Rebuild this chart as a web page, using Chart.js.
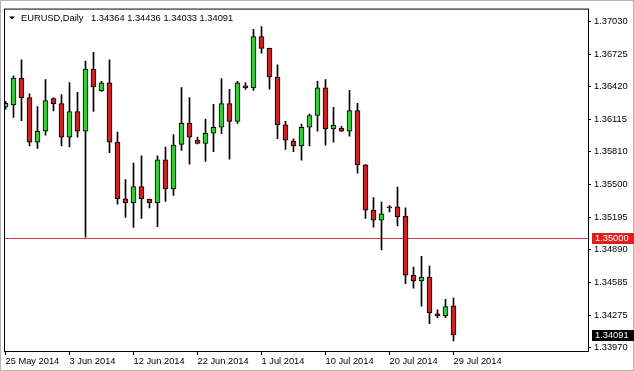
<!DOCTYPE html>
<html>
<head>
<meta charset="utf-8">
<title>EURUSD Daily</title>
<script src="https://cdn.jsdelivr.net/npm/chart.js@4.4.1/dist/chart.umd.min.js"></script>
<style>
  html, body { margin: 0; padding: 0; background: #fff; }
  canvas { display: block; }
</style>
</head>
<body>
<canvas id="chart" width="634" height="371"></canvas>
<script>
/* global Chart */

// Daily bars, Sunday bars included (broker feed)
const dates = [
  '25 May 2014', '26 May 2014', '27 May 2014', '28 May 2014', '29 May 2014', '30 May 2014',
  '1 Jun 2014', '2 Jun 2014', '3 Jun 2014', '4 Jun 2014', '5 Jun 2014', '6 Jun 2014',
  '8 Jun 2014', '9 Jun 2014', '10 Jun 2014', '11 Jun 2014', '12 Jun 2014', '13 Jun 2014',
  '15 Jun 2014', '16 Jun 2014', '17 Jun 2014', '18 Jun 2014', '19 Jun 2014', '20 Jun 2014',
  '22 Jun 2014', '23 Jun 2014', '24 Jun 2014', '25 Jun 2014', '26 Jun 2014', '27 Jun 2014',
  '29 Jun 2014', '30 Jun 2014', '1 Jul 2014', '2 Jul 2014', '3 Jul 2014', '4 Jul 2014',
  '6 Jul 2014', '7 Jul 2014', '8 Jul 2014', '9 Jul 2014', '10 Jul 2014', '11 Jul 2014',
  '13 Jul 2014', '14 Jul 2014', '15 Jul 2014', '16 Jul 2014', '17 Jul 2014', '18 Jul 2014',
  '20 Jul 2014', '21 Jul 2014', '22 Jul 2014', '23 Jul 2014', '24 Jul 2014', '25 Jul 2014',
  '27 Jul 2014', '28 Jul 2014', '29 Jul 2014'
];

const open = [
  1.36227, 1.36248, 1.36502, 1.36317, 1.35900, 1.36002, 1.36308, 1.36261, 1.35946, 1.36187,
  1.36002, 1.36585, 1.36382, 1.36456, 1.35900, 1.35368, 1.35331, 1.35483, 1.35363, 1.35331,
  1.35733, 1.35461, 1.35878, 1.36076, 1.35919, 1.35887, 1.35983, 1.36039, 1.36261, 1.36095,
  1.36428, 1.36409, 1.36891, 1.36780, 1.36511, 1.36063, 1.35909, 1.35863, 1.36039, 1.36150,
  1.36409, 1.36023, 1.36032, 1.36002, 1.36196, 1.35687, 1.35261, 1.35168, 1.35287, 1.35292,
  1.35205, 1.34650, 1.34597, 1.34634, 1.34288, 1.34270, 1.34364
];
const high = [
  1.36283, 1.36521, 1.36672, 1.36354, 1.36233, 1.36486, 1.36315, 1.36347, 1.36459, 1.36366,
  1.36660, 1.36743, 1.36471, 1.36672, 1.35995, 1.35548, 1.35702, 1.35770, 1.35366, 1.35770,
  1.35854, 1.35970, 1.36412, 1.36317, 1.35946, 1.36116, 1.36255, 1.36496, 1.36396, 1.36471,
  1.36456, 1.36959, 1.36984, 1.36783, 1.36625, 1.36095, 1.35931, 1.36070, 1.36162, 1.36471,
  1.36486, 1.36227, 1.36048, 1.36387, 1.36264, 1.35690, 1.35380, 1.35338, 1.35305, 1.35477,
  1.35282, 1.34727, 1.34828, 1.34736, 1.34326, 1.34424, 1.34436
];
const low = [
  1.36208, 1.36132, 1.36100, 1.35863, 1.35841, 1.35965, 1.36193, 1.35863, 1.35854, 1.35946,
  1.35007, 1.36187, 1.36375, 1.35801, 1.35317, 1.35192, 1.35100, 1.35183, 1.35282, 1.35106,
  1.35344, 1.35400, 1.35822, 1.35693, 1.35884, 1.35718, 1.35810, 1.35980, 1.35739, 1.36076,
  1.36394, 1.36384, 1.36734, 1.36396, 1.35933, 1.35832, 1.35810, 1.35730, 1.35863, 1.36002,
  1.35872, 1.35900, 1.36000, 1.35956, 1.35609, 1.35183, 1.35102, 1.34889, 1.35245, 1.35113,
  1.34572, 1.34529, 1.34359, 1.34196, 1.34251, 1.34251, 1.34033
];
const close = [
  1.36264, 1.36502, 1.36317, 1.35900, 1.36002, 1.36289, 1.36261, 1.35946, 1.36187, 1.36002,
  1.36585, 1.36419, 1.36456, 1.35900, 1.35368, 1.35331, 1.35483, 1.35368, 1.35331, 1.35733,
  1.35461, 1.35872, 1.36076, 1.35946, 1.35887, 1.35983, 1.36039, 1.36261, 1.36095, 1.36456,
  1.36409, 1.36891, 1.36780, 1.36511, 1.36063, 1.35919, 1.35863, 1.36039, 1.36150, 1.36409,
  1.36023, 1.36057, 1.36002, 1.36196, 1.35687, 1.35261, 1.35168, 1.35227, 1.35284, 1.35199,
  1.34650, 1.34597, 1.34634, 1.34298, 1.34270, 1.34356, 1.34091
];

const xTickLabels = ['25 May 2014', '3 Jun 2014', '12 Jun 2014', '22 Jun 2014',
  '1 Jul 2014', '10 Jul 2014', '20 Jul 2014', '29 Jul 2014'];
const yTicks = [1.37030, 1.36725, 1.36420, 1.36115, 1.35810, 1.35500,
  1.35195, 1.34890, 1.34585, 1.34275, 1.33970];

const symbol = 'EURUSD,Daily';
const levelPrice = 1.35000;

const FONT = 'Liberation Sans';
const fontSize = 9.3;
const bullColor = '#33cc33';
const bearColor = '#cc2222';

const last = close.length - 1;

// wick = low..high, body = open..close
const wickData = dates.map((d, i) => ({ x: i, y: [low[i], high[i]] }));
const bodyData = dates.map((d, i) => ({ x: i, y: [open[i], close[i]] }));
const bodyColors = dates.map((d, i) =>
  close[i] > open[i] ? bullColor : (close[i] < open[i] ? bearColor : '#000'));

// Extra drawing: level line, price labels, frame, header
const terminalLook = {
  id: 'terminalLook',
  beforeDraw(chart) {
    const ctx = chart.ctx;
    ctx.save();
    ctx.fillStyle = '#fff';
    ctx.fillRect(0, 0, chart.width, chart.height);
    ctx.strokeStyle = '#b4b4b4';
    ctx.strokeRect(0.5, 0.5, chart.width - 1, chart.height - 1);
    ctx.restore();
  },
  beforeDatasetsDraw(chart) {
    const { ctx, chartArea: a } = chart;
    const y = Math.round(chart.scales.y.getPixelForValue(levelPrice)) + 0.5;
    ctx.save();
    ctx.strokeStyle = '#d23c3c';
    ctx.lineWidth = 1;
    ctx.beginPath();
    ctx.moveTo(a.left, y);
    ctx.lineTo(a.right, y);
    ctx.stroke();
    ctx.restore();
  },
  afterDraw(chart) {
    const { ctx, chartArea: a } = chart;
    const yScale = chart.scales.y;
    ctx.save();

    // frame
    ctx.strokeStyle = '#000';
    ctx.lineWidth = 1;
    ctx.strokeRect(a.left + 0.5, a.top + 0.5, a.right - a.left, a.bottom - a.top);

    // price boxes on the axis
    ctx.font = fontSize + 'px "' + FONT + '"';
    ctx.textBaseline = 'middle';
    ctx.textAlign = 'left';
    const boxes = [
      { v: levelPrice, bg: '#e01e1e' },
      { v: close[last], bg: '#000' }
    ];
    boxes.forEach(function (b) {
      const y = Math.round(yScale.getPixelForValue(b.v));
      ctx.fillStyle = b.bg;
      ctx.fillRect(a.right + 4, y - 5, 42, 11);
      ctx.fillStyle = '#fff';
      ctx.fillText(b.v.toFixed(5), a.right + 7, y + 0.5);
    });

    // header
    ctx.fillStyle = '#000';
    ctx.beginPath();
    ctx.moveTo(a.left + 5, a.top + 8);
    ctx.lineTo(a.left + 11, a.top + 8);
    ctx.lineTo(a.left + 8, a.top + 11);
    ctx.closePath();
    ctx.fill();
    const ohlc = [open[last], high[last], low[last], close[last]]
      .map(function (v) { return v.toFixed(5); }).join(' ');
    ctx.fillText(symbol, a.left + 17, a.top + 9.5);
    ctx.fillText(ohlc, a.left + 87, a.top + 9.5);
    ctx.restore();
  }
};

const ctx = document.getElementById('chart').getContext('2d');

const chart = new Chart(ctx, {
  type: 'bar',
  data: {
    datasets: [{
      label: 'Body',
      data: bodyData,
      backgroundColor: bodyColors,
      borderColor: '#000',
      borderWidth: 1,
      borderSkipped: false,
      barThickness: 5,
      minBarLength: 1,
      grouped: false,
      order: 0
    },
    {
      label: 'Wick',
      data: wickData,
      backgroundColor: '#000',
      borderWidth: 0,
      barThickness: 1,
      grouped: false,
      order: 1
    }]
  },
  options: {
    responsive: false,
    animation: false,
    devicePixelRatio: 1,
    layout: { padding: { left: 4, top: 4, right: 0, bottom: 0 } },
    plugins: {
      legend: { display: false },
      tooltip: { enabled: false },
      title: { display: false }
    },
    scales: {
      x: {
        type: 'linear',
        min: -0.1875,
        max: 72.8125,
        offset: false,
        afterBuildTicks: function (s) {
          s.ticks = xTickLabels.map(function (l) { return { value: dates.indexOf(l) }; });
        },
        afterFit: function (s) { s.height = 20; },
        border: { display: false },
        grid: { offset: false, drawOnChartArea: false, tickLength: 4, color: '#000' },
        ticks: {
          autoSkip: false,
          maxRotation: 0,
          align: 'start',
          padding: 1,
          color: '#000',
          font: { family: FONT, size: fontSize },
          callback: function (v) { return dates[v]; }
        }
      },
      y: {
        type: 'linear',
        position: 'right',
        min: 1.339393,
        max: 1.371532,
        afterBuildTicks: function (s) {
          s.ticks = yTicks.map(function (v) { return { value: v }; });
        },
        afterFit: function (s) { s.width = 46; },
        border: { display: false },
        grid: { drawOnChartArea: false, tickLength: 3, color: '#000' },
        ticks: {
          autoSkip: false,
          padding: 3,
          color: '#000',
          font: { family: FONT, size: fontSize },
          callback: function (v) { return v.toFixed(5); }
        }
      }
    }
  },
  plugins: [terminalLook]
});
</script>
</body>
</html>
